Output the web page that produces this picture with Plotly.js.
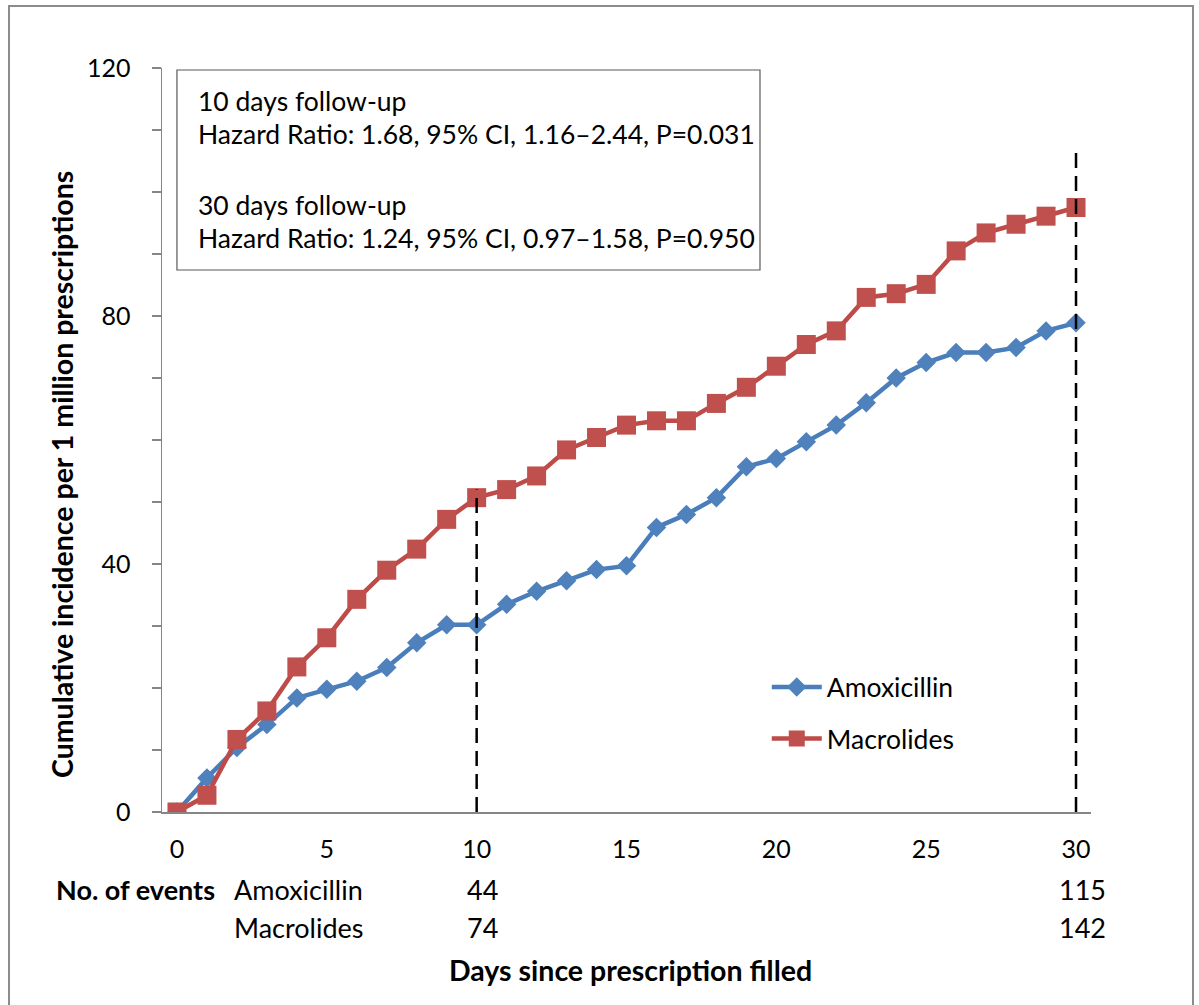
<!DOCTYPE html>
<html>
<head>
<meta charset="utf-8">
<script src="https://cdn.plot.ly/plotly-3.0.1.min.js"></script>
<style>
  html, body { margin: 0; padding: 0; background: #fff; }
  #chart { width: 1199px; height: 1005px; }
</style>
</head>
<body>
<div id="chart"></div>
<script>
// ---- data ----
var days = [0,1,2,3,4,5,6,7,8,9,10,11,12,13,14,15,16,17,18,19,20,21,22,23,24,25,26,27,28,29,30];
var amoxicillin = [0,5.5,10.4,14.1,18.4,19.8,21.1,23.3,27.3,30.2,30.2,33.5,35.6,37.3,39.1,39.7,45.9,48.0,50.7,55.7,57.0,59.7,62.4,66.0,70.0,72.5,74.1,74.1,74.9,77.6,78.9];
var macrolides = [0,2.7,11.7,16.3,23.4,28.1,34.3,39.0,42.4,47.2,50.7,52.0,54.2,58.4,60.4,62.4,63.1,63.1,65.9,68.5,71.9,75.4,77.6,83.0,83.6,85.1,90.5,93.4,94.8,96.1,97.5];
var followUpDays = [10, 30];
var followUpTop = [52, 106.5];
var eventsAmoxicillin = [44, 115];
var eventsMacrolides = [74, 142];
var yTickVals = [0,10,20,30,40,50,60,70,80,90,100,110,120];
var yTickText = ['0','','','','40','','','','80','','','','120'];
var xTickVals = [0,5,10,15,20,25,30];
var hrLines = [
  '10 days follow-up',
  'Hazard Ratio: 1.68, 95% CI, 1.16\u20132.44, P=0.031',
  '30 days follow-up',
  'Hazard Ratio: 1.24, 95% CI, 0.97\u20131.58, P=0.950'
];

var FONT = 'Lato, "Open Sans", sans-serif';
var BLUE = '#4A7EBB';
var RED = '#BE4B48';
var REG = 26.5;   // regular text size
var BOLD = 28.5;  // bold title size

// dashed reference lines built from arrays
var dx = [], dy = [];
followUpDays.forEach(function(d, i) {
  dx.push(d, d, null);
  dy.push(0, followUpTop[i], null);
});

var traces = [
  {
    x: days, y: amoxicillin, name: 'Amoxicillin', type: 'scatter', mode: 'lines+markers',
    line: {color: BLUE, width: 4.5},
    marker: {symbol: 'diamond', size: 15, color: '#4F81BD', line: {width: 0}},
    legendgroup: 'a'
  },
  {
    x: days, y: macrolides, name: 'Macrolides', type: 'scatter', mode: 'lines+markers',
    line: {color: RED, width: 4.5},
    marker: {symbol: 'square', size: 19, color: '#C0504D', line: {width: 0}},
    legendgroup: 'b'
  },
  {
    x: dx, y: dy, type: 'scatter', mode: 'lines', showlegend: false, hoverinfo: 'skip',
    line: {color: '#000000', width: 2.5, dash: '15px,8px'}
  }
];

var annotations = [];
var hrY = [0.9556, 0.9113, 0.8159, 0.7715];
hrLines.forEach(function(t, i) {
  annotations.push({
    text: t, xref: 'paper', yref: 'paper', x: 0.0366, y: hrY[i],
    xanchor: 'left', yanchor: 'middle', showarrow: false,
    font: {family: FONT, size: REG, color: '#000'}
  });
});
// events table
annotations.push({text: '<b>No. of events</b>', xref: 'paper', yref: 'paper', x: 0.0592, y: -0.1048,
  xanchor: 'right', yanchor: 'middle', showarrow: false, font: {family: FONT, size: 27, color: '#000'}});
annotations.push({text: 'Amoxicillin', xref: 'paper', yref: 'paper', x: 0.0753, y: -0.1048,
  xanchor: 'left', yanchor: 'middle', showarrow: false, font: {family: FONT, size: 27, color: '#000'}});
annotations.push({text: 'Macrolides', xref: 'paper', yref: 'paper', x: 0.0753, y: -0.1546,
  xanchor: 'left', yanchor: 'middle', showarrow: false, font: {family: FONT, size: 27, color: '#000'}});
followUpDays.forEach(function(d, i) {
  annotations.push({text: String(eventsAmoxicillin[i]), xref: 'x', yref: 'paper', x: d, xshift: 6, y: -0.1048,
    xanchor: 'center', yanchor: 'middle', showarrow: false, font: {family: FONT, size: 27, color: '#000'}});
  annotations.push({text: String(eventsMacrolides[i]), xref: 'x', yref: 'paper', x: d, xshift: 6, y: -0.1546,
    xanchor: 'center', yanchor: 'middle', showarrow: false, font: {family: FONT, size: 27, color: '#000'}});
});
// axis titles
annotations.push({text: '<b>Cumulative incidence per 1 million prescriptions</b>', xref: 'paper', yref: 'paper',
  x: -0.1076, y: 0.453, textangle: -90, xanchor: 'center', yanchor: 'middle', showarrow: false,
  font: {family: FONT, size: BOLD, color: '#000'}});
annotations.push({text: '<b>Days since prescription filled</b>', xref: 'paper', yref: 'paper',
  x: 0.5048, y: -0.2124, xanchor: 'center', yanchor: 'middle', showarrow: false,
  font: {family: FONT, size: BOLD, color: '#000'}});

var layout = {
  width: 1199, height: 1005,
  margin: {l: 162, r: 108, t: 68, b: 193},
  paper_bgcolor: '#fff', plot_bgcolor: '#fff',
  font: {family: FONT, size: 25, color: '#000'},
  showlegend: true,
  legend: {
    x: 0.651, y: 0.2, xanchor: 'left', yanchor: 'top',
    bgcolor: 'rgba(0,0,0,0)', borderwidth: 0,
    font: {family: FONT, size: REG, color: '#000'},
    itemwidth: 50, traceorder: 'grouped', tracegroupgap: 14
  },
  xaxis: {
    range: [-0.5, 30.5], tickvals: xTickVals, ticks: '', showgrid: false, zeroline: false,
    showline: true, linecolor: '#868686', linewidth: 1.5,
    tickfont: {family: FONT, size: 25, color: '#000'}, ticklabelstandoff: 14, fixedrange: true
  },
  yaxis: {
    range: [0, 120], tickvals: yTickVals, ticktext: yTickText, ticks: 'outside', ticklen: 9,
    tickcolor: '#868686', tickwidth: 1.5, showgrid: false, zeroline: false,
    showline: true, linecolor: '#868686', linewidth: 1.5,
    tickfont: {family: FONT, size: 25, color: '#000'}, ticklabelstandoff: 16, fixedrange: true
  },
  shapes: [
    {type: 'rect', xref: 'paper', yref: 'paper', x0: 0.0161, x1: 0.6437, y0: 0.7285, y1: 0.9973,
      line: {color: '#595959', width: 1.2}, fillcolor: 'rgba(0,0,0,0)', layer: 'below'},
    {type: 'rect', xref: 'paper', yref: 'paper', x0: -0.1647, x1: 1.1098, y0: -0.27, y1: 1.0833,
      line: {color: '#8C8C8C', width: 2}, fillcolor: 'rgba(0,0,0,0)', layer: 'below'}
  ],
  annotations: annotations
};

Plotly.newPlot('chart', traces, layout, {displayModeBar: false, staticPlot: true});
</script>
</body>
</html>
